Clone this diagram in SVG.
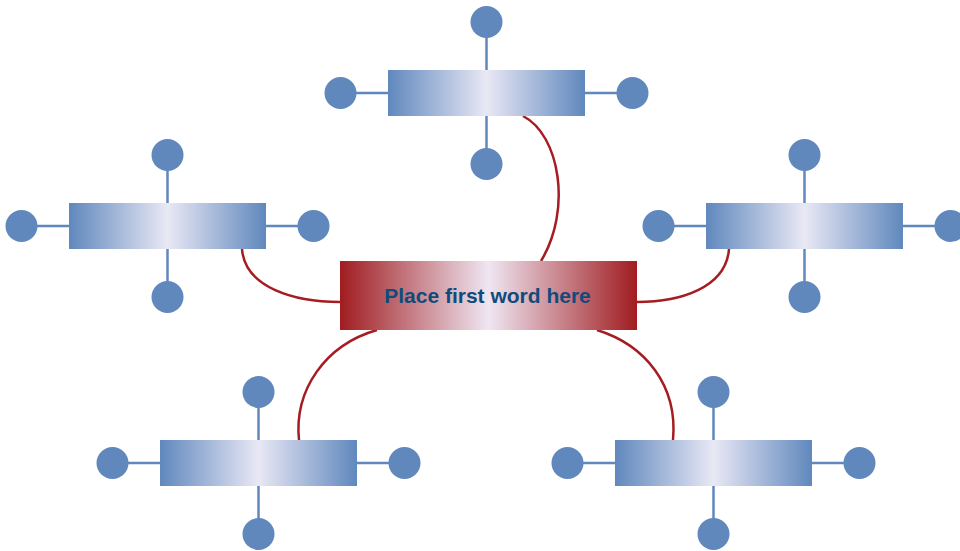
<svg xmlns="http://www.w3.org/2000/svg" width="960" height="551" viewBox="0 0 960 551">
<style>
.stem{stroke:#6088bd;stroke-width:2.5;fill:none}
.dot{fill:#6088bd}
.sub{fill:url(#blueGrad)}
.conn{stroke:#a51c22;stroke-width:2.5;fill:none}
.label{font-family:"Liberation Sans",Arial,sans-serif;font-weight:bold;font-size:21px;fill:#0f4b7c;text-anchor:middle}
</style>
<defs>
<linearGradient id="blueGrad" x1="0" y1="0" x2="1" y2="0">
<stop offset="0" stop-color="#6088bd"/>
<stop offset="0.5" stop-color="#e9e8f5"/>
<stop offset="1" stop-color="#6088bd"/>
</linearGradient>
<linearGradient id="redGrad" x1="0" y1="0" x2="1" y2="0">
<stop offset="0" stop-color="#a01c20"/>
<stop offset="0.5" stop-color="#efe6f2"/>
<stop offset="1" stop-color="#a01c20"/>
</linearGradient>
<g id="spoke">
<line class="stem" x1="-146" y1="0" x2="146" y2="0"/>
<line class="stem" x1="0" y1="-71" x2="0" y2="71"/>
<circle class="dot" cx="-146" cy="0" r="16"/>
<circle class="dot" cx="146" cy="0" r="16"/>
<circle class="dot" cx="0" cy="-71" r="16"/>
<circle class="dot" cx="0" cy="71" r="16"/>
<rect class="sub" x="-98.5" y="-23" width="197" height="46"/>
</g>
</defs>
<g id="connectors">
<path class="conn" d="M523,116 C560,135 572,210 541,261"/>
<path class="conn" d="M242,249 C245,288 295,302 340,302"/>
<path class="conn" d="M729,249 C726,288 680,302 637,302"/>
<path class="conn" d="M377,330 C325,345 294,390 299,440"/>
<path class="conn" d="M597,330 C645,345 678,385 673,440"/>
</g>
<g id="node-top"><use href="#spoke" x="486.5" y="93"/></g>
<g id="node-left"><use href="#spoke" x="167.5" y="226"/></g>
<g id="node-right"><use href="#spoke" x="804.5" y="226"/></g>
<g id="node-bottom-left"><use href="#spoke" x="258.5" y="463"/></g>
<g id="node-bottom-right"><use href="#spoke" x="713.5" y="463"/></g>
<g id="node-center">
<rect x="340" y="261" width="297" height="69" fill="url(#redGrad)"/>
<text class="label" x="487.5" y="302.5">Place first word here</text>
</g>
</svg>
